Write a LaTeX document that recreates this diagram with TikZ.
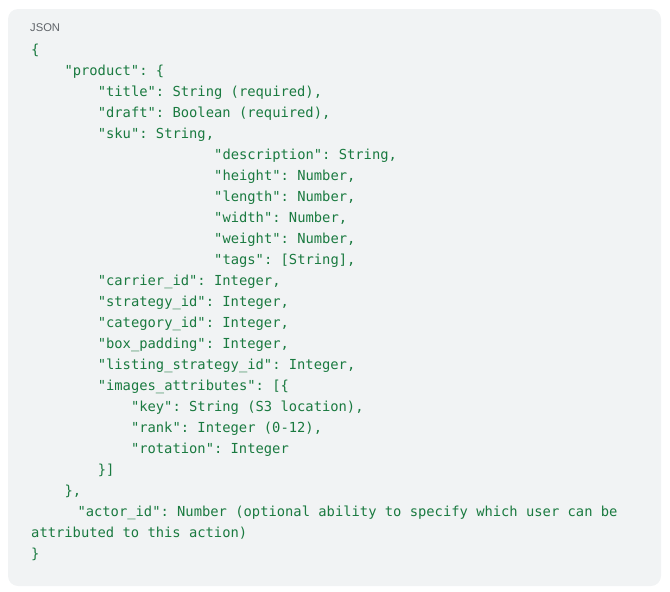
\documentclass[tikz,border=0pt]{standalone}
\usepackage{fontspec}
\setmonofont{DejaVu Sans Mono}
\newfontfamily\labelfont{Liberation Sans}
\definecolor{codegreen}{HTML}{1A7A40}
\definecolor{codebg}{HTML}{F1F3F4}
\definecolor{labelgray}{HTML}{5F6368}

\begin{document}
\begin{tikzpicture}[x=1pt,y=-1pt,every node/.style={anchor=base west,inner sep=0pt},
 codeline/.style={text=codegreen,font=\ttfamily\fontsize{13.8}{21}\selectfont}]

\useasboundingbox(0,0) rectangle (670,592);
\fill[codebg,rounded corners=10pt](8,9) rectangle (661,586);

\node[text=labelgray,font=\labelfont\fontsize{11.2}{13}\selectfont](lang) at (30,31){JSON};

\node[codeline](open) at (31,54){\{};
\node[codeline](product) at (64.3,75){"product": \{};
\node[codeline](title) at (97.6,96){"title": String (required),};
\node[codeline](draft) at (97.6,117){"draft": Boolean (required),};
\node[codeline](sku) at (97.6,138){"sku": String,};
\node[codeline](description) at (214,159){"description": String,};
\node[codeline](height) at (214,180){"height": Number,};
\node[codeline](length) at (214,201){"length": Number,};
\node[codeline](width) at (214,222){"width": Number,};
\node[codeline](weight) at (214,243){"weight": Number,};
\node[codeline](tags) at (214,264){"tags": [String],};
\node[codeline](carrier) at (97.6,285){"carrier\_id": Integer,};
\node[codeline](strategy) at (97.6,306){"strategy\_id": Integer,};
\node[codeline](category) at (97.6,327){"category\_id": Integer,};
\node[codeline](padding) at (97.6,348){"box\_padding": Integer,};
\node[codeline](listing) at (97.6,369){"listing\_strategy\_id": Integer,};
\node[codeline](images) at (97.6,390){"images\_attributes": [\{};
\node[codeline](key) at (130.8,411){"key": String (S3 location),};
\node[codeline](rank) at (130.8,432){"rank": Integer (0-12),};
\node[codeline](rotation) at (130.8,453){"rotation": Integer};
\node[codeline](closeimages) at (97.6,474){\}]};
\node[codeline](closeproduct) at (64.3,495){\},};
\node[codeline](actor) at (77.3,516){"actor\_id": Number (optional ability to specify which user can be};
\node[codeline](attributed) at (31,537){attributed to this action)};
\node[codeline](close) at (31,558){\}};

\end{tikzpicture}
\end{document}
